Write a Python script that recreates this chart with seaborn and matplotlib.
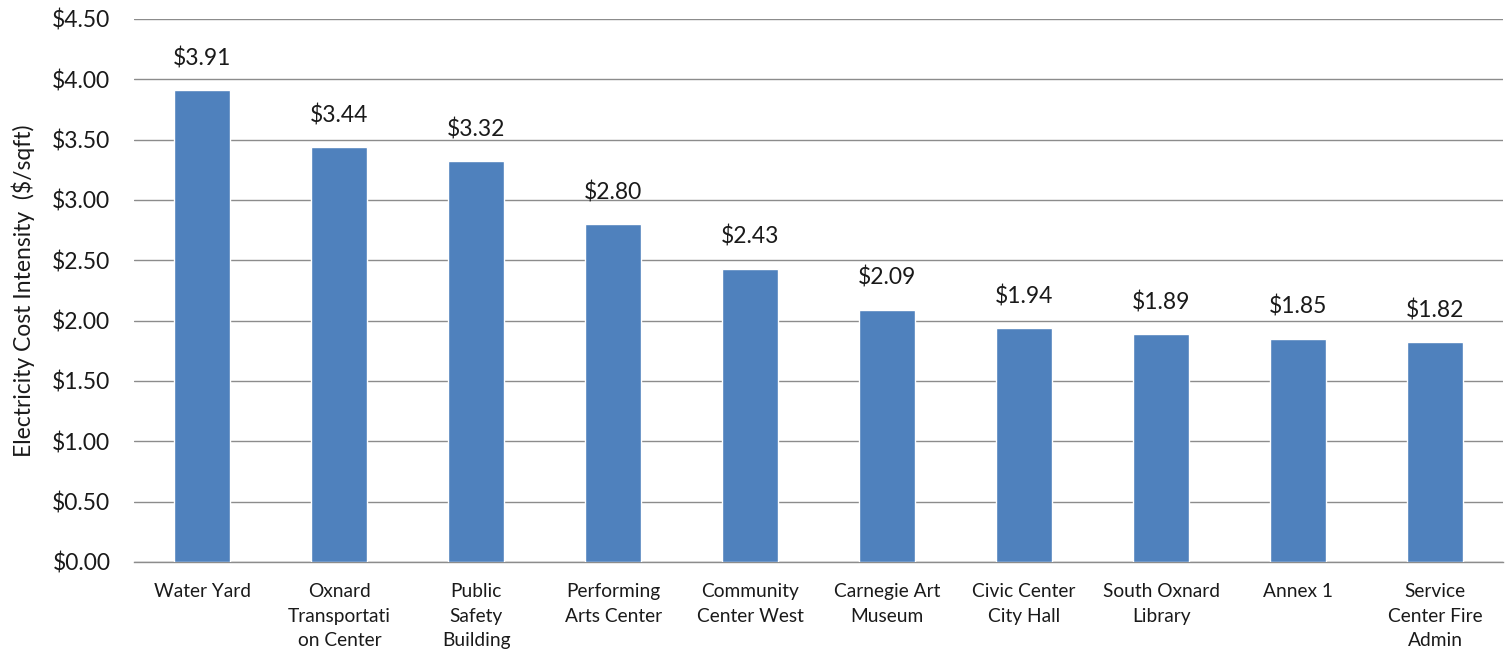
import matplotlib
matplotlib.use("Agg")
import matplotlib.pyplot as plt
import seaborn as sns
import pandas as pd
import numpy as np

# Data
buildings = ["Water Yard", "Oxnard\nTransportati\non Center", "Public\nSafety\nBuilding",
             "Performing\nArts Center", "Community\nCenter West", "Carnegie Art\nMuseum",
             "Civic Center\nCity Hall", "South Oxnard\nLibrary", "Annex 1",
             "Service\nCenter Fire\nAdmin"]
cost = [3.91, 3.44, 3.32, 2.80, 2.43, 2.09, 1.94, 1.89, 1.85, 1.82]
yticks = [0, 0.5, 1.0, 1.5, 2.0, 2.5, 3.0, 3.5, 4.0, 4.5]

df = pd.DataFrame({"building": buildings, "cost": cost})

sns.set_style("white")
plt.rcParams["font.family"] = ["Lato", "DejaVu Sans"]

fig = plt.figure(figsize=(15.05, 6.55), dpi=100)
ax = fig.add_axes([0.089, 0.142, 0.910, 0.829])

sns.barplot(data=df, x="building", y="cost", color="#4F81BD", width=0.41,
            saturation=1, ax=ax, zorder=3)

# Value labels above bars
for i, v in enumerate(cost):
    ax.annotate(f"${v:.2f}", (i, v), xytext=(0, 15), textcoords="offset points",
                ha="center", va="bottom", fontsize=16.5, color="#1a1a1a")

ax.set_ylim(0, 4.5)
ax.set_xlim(-0.5, len(buildings) - 0.5)
ax.set_yticks(yticks)
ax.set_yticklabels([f"${t:.2f}" for t in yticks], fontsize=16.5, color="#1a1a1a")
ax.yaxis.grid(True, color="#8c8c8c", linewidth=1.0, zorder=0)
ax.set_axisbelow(True)

# Category axis: ticks at boundaries, labels centered
ax.set_xticks(np.arange(len(buildings)))
ax.set_xticklabels(buildings, fontsize=13.8, color="#1a1a1a", linespacing=1.55)
ax.set_xticks(np.arange(len(buildings) + 1) - 0.5, minor=True)
ax.tick_params(axis="x", which="major", length=0, pad=15)
ax.tick_params(axis="x", which="minor", length=6, color="#8c8c8c", width=1)
ax.tick_params(axis="y", length=0, pad=17)

ax.set_xlabel("")
ax.set_ylabel("Electricity Cost Intensity  ($/sqft)", fontsize=16.5, color="#1a1a1a", labelpad=12)

for s in ["top", "right", "left"]:
    ax.spines[s].set_visible(False)
ax.spines["bottom"].set_color("#8c8c8c")
ax.spines["bottom"].set_linewidth(1)

fig.savefig("out.png", dpi=100)
